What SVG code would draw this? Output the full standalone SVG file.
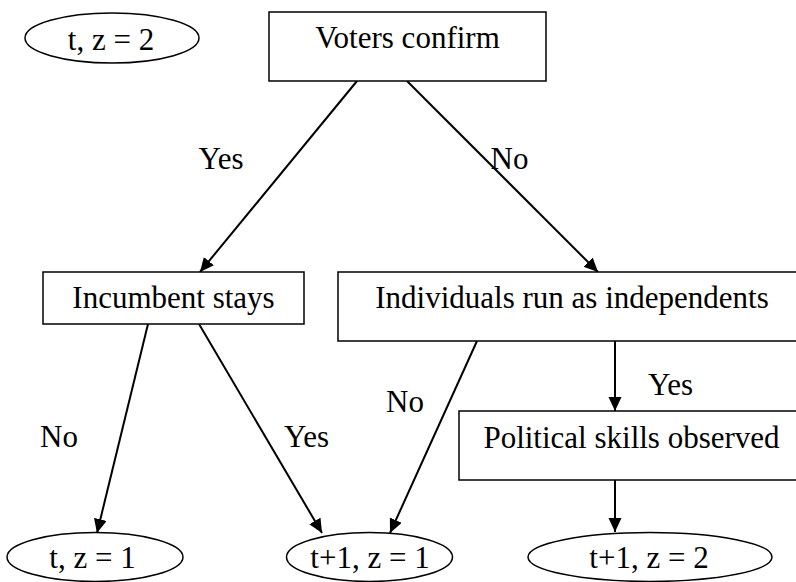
<svg xmlns="http://www.w3.org/2000/svg" width="796" height="582" viewBox="0 0 796 582">
<style>
  .box { fill: #fff; stroke: #000; stroke-width: 1.5; }
  .ell { fill: #fff; stroke: #000; stroke-width: 1.5; }
  .t { font-family: "Liberation Serif", "Times New Roman", serif; font-size: 31px; fill: #000; text-anchor: middle; }
  .edge { stroke: #000; stroke-width: 2; fill: none; marker-end: url(#arr); }
</style>
<defs>
  <marker id="arr" markerUnits="userSpaceOnUse" markerWidth="15" markerHeight="14" refX="14" refY="6.5" orient="auto">
    <path d="M0,0 L14,6.5 L0,13 z" fill="#000"/>
  </marker>
</defs>
<rect width="796" height="582" fill="#fff"/>
<g id="connectors">
  <line class="edge" x1="357" y1="81" x2="200" y2="272"/>
  <line class="edge" x1="407" y1="81" x2="598" y2="272"/>
  <line class="edge" x1="148" y1="324" x2="97" y2="533"/>
  <line class="edge" x1="199" y1="324" x2="322" y2="533"/>
  <line class="edge" x1="477" y1="341" x2="390" y2="533"/>
  <line class="edge" x1="615" y1="341" x2="615" y2="411"/>
  <line class="edge" x1="615" y1="480" x2="615" y2="532"/>
  <text class="t" x="221" y="169">Yes</text>
  <text class="t" x="509.5" y="169">No</text>
  <text class="t" x="59" y="447">No</text>
  <text class="t" x="306.5" y="447">Yes</text>
  <text class="t" x="405" y="412">No</text>
  <text class="t" x="670.5" y="395">Yes</text>
</g>
<g id="start">
  <ellipse class="ell" cx="112" cy="38" rx="87" ry="25"/>
  <text class="t" x="111" y="50">t, z = 2</text>
</g>
<g id="voters">
  <rect class="box" x="269" y="12" width="277" height="69"/>
  <text class="t" x="407.5" y="48">Voters confirm</text>
</g>
<g id="incumbent">
  <rect class="box" x="43" y="272" width="261" height="52"/>
  <text class="t" x="173.5" y="308">Incumbent stays</text>
</g>
<g id="independents">
  <rect class="box" x="338" y="272" width="470" height="69"/>
  <text class="t" x="572" y="308">Individuals run as independents</text>
</g>
<g id="skills">
  <rect class="box" x="459" y="411" width="350" height="69"/>
  <text class="t" x="631.5" y="448">Political skills observed</text>
</g>
<g id="end1">
  <ellipse class="ell" cx="95" cy="557" rx="88" ry="24.5"/>
  <text class="t" x="92.5" y="568">t, z = 1</text>
</g>
<g id="end2">
  <ellipse class="ell" cx="369.5" cy="557" rx="83" ry="24.5"/>
  <text class="t" x="370" y="568">t+1, z = 1</text>
</g>
<g id="end3">
  <ellipse class="ell" cx="650" cy="557" rx="122" ry="24.5"/>
  <text class="t" x="649" y="568">t+1, z = 2</text>
</g>
</svg>
